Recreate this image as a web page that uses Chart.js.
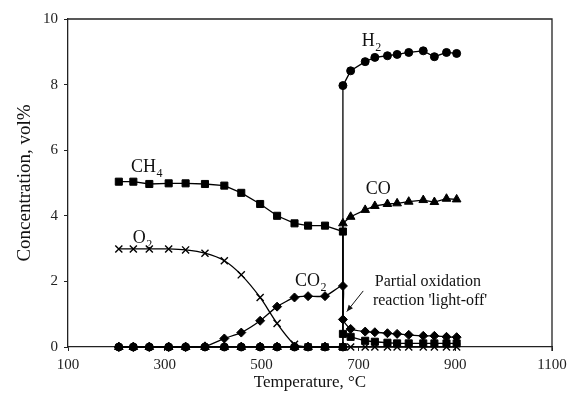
<!DOCTYPE html>
<html>
<head>
<meta charset="utf-8">
<script src="https://cdn.jsdelivr.net/npm/chart.js@4"></script>
<style>
  html, body { margin: 0; padding: 0; background: #fff; }
  #wrap { width: 573px; height: 396px; position: relative; }
</style>
</head>
<body>
<div id="wrap"><canvas id="concChart"></canvas></div>
<script>
// temperatures (°C) before and after light-off
const tempsLow = [205, 235, 268, 308, 343, 383, 423, 458, 497, 532, 568, 596, 631, 668];
const tempsHigh = [668, 684, 714, 734, 760, 780, 804, 834, 857, 882, 903];

// concentrations, vol%
const ch4Low = [5.04, 5.04, 4.97, 4.99, 4.99, 4.97, 4.92, 4.70, 4.36, 4.00, 3.77, 3.70, 3.70, 3.52];
const ch4High = [0.40, 0.31, 0.19, 0.16, 0.13, 0.11, 0.11, 0.11, 0.11, 0.11, 0.11];
const o2Low = [2.99, 2.99, 2.99, 2.99, 2.96, 2.86, 2.63, 2.20, 1.51, 0.72, 0.08, 0, 0, 0];
const o2High = [0, 0, 0, 0, 0, 0, 0, 0, 0, 0, 0];
const co2Low = [0, 0, 0, 0, 0, 0.02, 0.26, 0.44, 0.80, 1.23, 1.51, 1.55, 1.55, 1.86];
const co2High = [0.84, 0.55, 0.47, 0.45, 0.42, 0.40, 0.37, 0.34, 0.34, 0.31, 0.30];
const h2Low = [0, 0, 0, 0, 0, 0, 0, 0, 0, 0, 0, 0, 0, 0];
const h2High = [7.97, 8.42, 8.70, 8.83, 8.88, 8.92, 8.98, 9.03, 8.85, 8.98, 8.95];
const coLow = [0, 0, 0, 0, 0, 0, 0, 0, 0, 0, 0, 0, 0, 0];
const coHigh = [3.77, 3.97, 4.18, 4.30, 4.36, 4.38, 4.43, 4.48, 4.42, 4.52, 4.50];

const xTicks = [100, 300, 500, 700, 900, 1100];
const yTicks = [0, 2, 4, 6, 8, 10];

// species labels: text, subscript, anchor (temperature, concentration)
const speciesLabels = [
  { text: "CH", sub: "4", x: 230, y: 5.34 },
  { text: "H", sub: "2", x: 707, y: 9.19 },
  { text: "CO", sub: "", x: 715, y: 4.66 },
  { text: "O", sub: "2", x: 234, y: 3.16 },
  { text: "CO", sub: "2", x: 569, y: 1.86 }
];
const noteLines = ["Partial oxidation", "reaction 'light-off'"];
const noteAnchor = [{ x: 734, y: 1.86 }, { x: 730, y: 1.28 }];
const arrowFrom = { x: 710, y: 1.71 };
const arrowTo = { x: 676, y: 1.08 };

const SERIF = "'Liberation Serif', 'Times New Roman', serif";
Chart.defaults.font.family = SERIF;
Chart.defaults.color = "#111";

function joinSeries(low, high) {
  return tempsLow.map((t, i) => ({ x: t, y: low[i] }))
    .concat(tempsHigh.map((t, i) => ({ x: t, y: high[i] })));
}

function series(data, style, radius, tension) {
  return {
    data,
    borderColor: "#000",
    backgroundColor: "#000",
    borderWidth: 1.3,
    pointStyle: style,
    pointRadius: radius,
    pointBorderWidth: style === "crossRot" ? 1.4 : 1,
    pointBackgroundColor: "#000",
    pointBorderColor: "#000",
    tension: tension || 0,
    clip: false
  };
}

const labelPlugin = {
  id: "labels",
  afterDraw(chart) {
    const { ctx, scales: { x, y }, chartArea } = chart;
    ctx.save();

    // frame on top and right
    ctx.strokeStyle = "#222";
    ctx.lineWidth = 1.3;
    ctx.beginPath();
    ctx.moveTo(chartArea.left, chartArea.top);
    ctx.lineTo(chartArea.right, chartArea.top);
    ctx.lineTo(chartArea.right, chartArea.bottom + 4);
    ctx.stroke();

    ctx.fillStyle = "#111";
    ctx.textBaseline = "alphabetic";
    ctx.textAlign = "left";
    speciesLabels.forEach((lab) => {
      const px = x.getPixelForValue(lab.x);
      const py = y.getPixelForValue(lab.y);
      ctx.font = "18px " + SERIF;
      ctx.fillText(lab.text, px, py);
      if (lab.sub) {
        const w = ctx.measureText(lab.text).width;
        ctx.font = "12px " + SERIF;
        ctx.fillText(lab.sub, px + w + 0.5, py + 5);
      }
    });

    ctx.font = "16px " + SERIF;
    noteLines.forEach((line, i) => {
      ctx.fillText(line, x.getPixelForValue(noteAnchor[i].x), y.getPixelForValue(noteAnchor[i].y));
    });

    // arrow pointing at the light-off
    const x0 = x.getPixelForValue(arrowFrom.x), y0 = y.getPixelForValue(arrowFrom.y);
    const x1 = x.getPixelForValue(arrowTo.x), y1 = y.getPixelForValue(arrowTo.y);
    const ang = Math.atan2(y1 - y0, x1 - x0);
    ctx.strokeStyle = "#111";
    ctx.lineWidth = 1;
    ctx.beginPath();
    ctx.moveTo(x0, y0);
    ctx.lineTo(x1, y1);
    ctx.stroke();
    ctx.beginPath();
    ctx.moveTo(x1, y1);
    ctx.lineTo(x1 - 7 * Math.cos(ang - 0.4), y1 - 7 * Math.sin(ang - 0.4));
    ctx.lineTo(x1 - 7 * Math.cos(ang + 0.4), y1 - 7 * Math.sin(ang + 0.4));
    ctx.closePath();
    ctx.fill();

    ctx.restore();
  }
};

new Chart(document.getElementById("concChart"), {
  type: "line",
  data: {
    datasets: [
      series(joinSeries(ch4Low, ch4High), "rect", 5),
      series(joinSeries(o2Low, o2High), "crossRot", 5, 0.25),
      series(joinSeries(co2Low, co2High), "rectRot", 4.5, 0.2),
      series(joinSeries(h2Low, h2High), "circle", 4),
      series(joinSeries(coLow, coHigh), "triangle", 5)
    ]
  },
  options: {
    responsive: true,
    maintainAspectRatio: false,
    animation: false,
    layout: { padding: { top: 19, right: 21, left: 0, bottom: 0 } },
    plugins: { legend: { display: false }, tooltip: { enabled: false } },
    scales: {
      x: {
        type: "linear",
        min: 100,
        max: 1100,
        afterFit(scale) { scale.height = 49; },
        afterBuildTicks(scale) { scale.ticks = xTicks.map((v) => ({ value: v })); },
        grid: { display: true, drawOnChartArea: false, tickLength: 4, color: "#222" },
        border: { color: "#222", width: 1.3 },
        ticks: {
          font: { size: 15 },
          color: "#222",
          padding: 5,
          maxRotation: 0,
          callback: (v) => String(v)
        },
        title: {
          display: true,
          text: "Temperature, °C",
          font: { size: 17 },
          color: "#111",
          padding: { top: 0, bottom: 3 }
        }
      },
      y: {
        min: 0,
        max: 10,
        afterFit(scale) { scale.width = 68; },
        afterBuildTicks(scale) { scale.ticks = yTicks.map((v) => ({ value: v })); },
        grid: { display: true, drawOnChartArea: false, tickLength: 4, color: "#222" },
        border: { color: "#222", width: 1.3 },
        ticks: { font: { size: 15 }, color: "#222", padding: 6, callback: (v) => String(v) },
        title: {
          display: true,
          text: "Concentration, vol%",
          font: { size: 19 },
          color: "#111",
          padding: { top: 14, bottom: 0 }
        }
      }
    }
  },
  plugins: [labelPlugin]
});
</script>
</body>
</html>
